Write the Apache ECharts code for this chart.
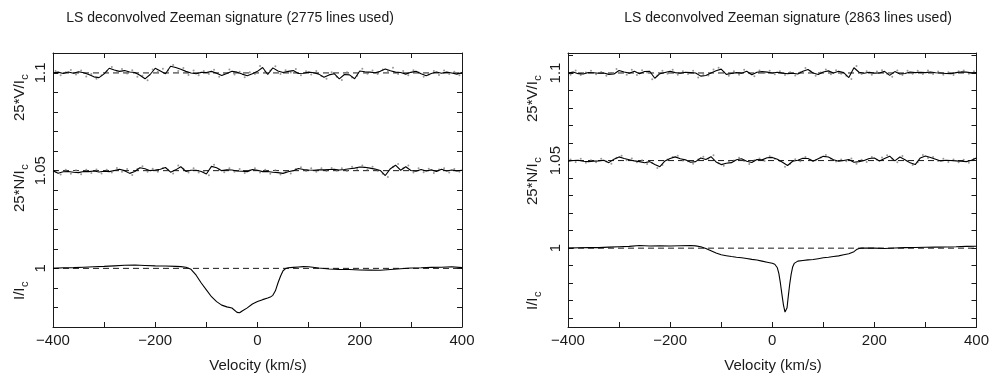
<!DOCTYPE html>
<html>
<head>
<meta charset="utf-8">
<script src="https://cdn.jsdelivr.net/npm/echarts@6/dist/echarts.min.js"></script>
<style>
html,body{margin:0;padding:0;background:#fff;}
#chart{width:992px;height:378px;}
</style>
</head>
<body>
<div id="chart"></div>
<script>
// ---------------- DATA ----------------
const titles = ['LS deconvolved Zeeman signature (2775 lines used)', 'LS deconvolved Zeeman signature (2863 lines used)'];
const xLabel = 'Velocity (km/s)';
const yNames = ['25*V/I', '25*N/I', 'I/I'];
const yNameSub = 'c';
const levels = [1.1, 1.05, 1.0];
const xTicks = [-400,-300,-200,-100,0,100,200,300,400];
const xTickLabels = [-400,-200,0,200,400];
const yTickLabels = [1, 1.05, 1.1];
const yTicksLeft = [0.97,0.98,0.99,1.00,1.01,1.02,1.03,1.04,1.05,1.06,1.07,1.08,1.09,1.10,1.11];
const yTicksRight = [0.96,0.97,0.98,0.99,1.00,1.01,1.02,1.03,1.04,1.05,1.06,1.07,1.08,1.09,1.10,1.11];

const velGrid = [
-400,-390,-380,-370,-360,-350,-340,-330,-320,-310,
-300,-290,-280,-270,-260,-250,-240,-230,-220,-210,
-200,-190,-180,-170,-160,-150,-140,-130,-120,-110,
-100,-90,-80,-70,-60,-50,-40,-30,-20,-10,
0,10,20,30,40,50,60,70,80,90,
100,110,120,130,140,150,160,170,180,190,
200,210,220,230,240,250,260,270,280,290,
300,310,320,330,340,350,360,370,380,390,400];

const velDots = [
-395,-385,-375,-365,-355,-345,-335,-325,-315,-305,
-295,-285,-275,-265,-255,-245,-235,-225,-215,-205,
-195,-185,-175,-165,-155,-145,-135,-125,-115,-105,
-95,-85,-75,-65,-55,-45,-35,-25,-15,-5,
5,15,25,35,45,55,65,75,85,95,
105,115,125,135,145,155,165,175,185,195,
205,215,225,235,245,255,265,275,285,295,
305,315,325,335,345,355,365,375,385,395];

// Left panel (2775 lines)
const leftV = [
1.1000,1.1004,1.0997,1.1005,1.0998,1.1006,1.1001,1.0992,1.0980,1.0976,
1.0995,1.1024,1.1015,1.1008,1.1012,1.1005,1.1002,1.0988,1.0970,1.0992,
1.1024,1.1010,1.0996,1.1034,1.1028,1.1019,1.1008,1.1000,1.0996,1.1003,
1.1002,1.1008,1.0998,1.0987,1.0997,1.1009,1.1004,1.0994,1.0986,1.0996,
1.1008,1.1028,1.0992,1.1026,1.1010,1.1002,1.1008,1.1012,1.0997,1.0998,
1.1004,1.1001,1.0994,1.0978,1.0990,1.0996,1.0970,1.0992,1.0990,1.0970,
1.1010,1.1006,1.1004,1.1001,1.1008,1.1020,1.1011,1.1004,1.1002,1.0994,
1.1003,1.1009,1.0996,1.0986,1.0997,1.1005,1.0998,1.1004,1.1000,1.0994,1.1002];
const leftVDots = [
1.1010,1.0988,1.1003,1.1015,1.0992,1.1012,1.0982,1.0994,1.0970,1.0988,
1.1008,1.1030,1.1004,1.1020,1.0997,1.1014,1.0980,1.0986,1.0962,1.1018,
1.1006,1.1022,1.1012,1.1040,1.1010,1.1025,1.0990,1.1012,1.0988,1.1010,
1.0994,1.1016,1.0980,1.0996,1.1018,1.0992,1.1006,1.0978,1.1004,1.0994,
1.1035,1.1006,1.1012,1.1034,1.0994,1.1014,1.1002,1.1020,1.0988,1.1008,
1.0992,1.1010,1.0984,1.0970,1.1004,1.0980,1.0964,1.1004,1.0976,1.0986,
1.1022,1.0996,1.1012,1.0994,1.1018,1.1008,1.1026,1.0994,1.1010,1.0988,
1.1014,1.1002,1.0980,1.0992,1.1010,1.0990,1.1012,1.0994,1.1006,1.0988];
const leftN = [
1.0500,1.0487,1.0494,1.0496,1.0492,1.0490,1.0496,1.0495,1.0498,1.0493,
1.0497,1.0495,1.0501,1.0507,1.0500,1.0486,1.0496,1.0515,1.0510,1.0500,
1.0503,1.0507,1.0516,1.0492,1.0504,1.0520,1.0496,1.0502,1.0502,1.0496,
1.0483,1.0522,1.0515,1.0500,1.0504,1.0503,1.0498,1.0497,1.0495,1.0506,
1.0502,1.0495,1.0496,1.0492,1.0490,1.0486,1.0494,1.0500,1.0511,1.0506,
1.0503,1.0502,1.0505,1.0504,1.0506,1.0507,1.0503,1.0506,1.0510,1.0513,
1.0519,1.0517,1.0513,1.0508,1.0501,1.0475,1.0510,1.0528,1.0502,1.0520,
1.0501,1.0497,1.0506,1.0498,1.0504,1.0496,1.0507,1.0498,1.0503,1.0499,1.0502];
const leftNDots = [
1.0494,1.0480,1.0504,1.0484,1.0502,1.0482,1.0504,1.0488,1.0506,1.0486,
1.0504,1.0490,1.0514,1.0494,1.0508,1.0478,1.0508,1.0522,1.0494,1.0510,
1.0494,1.0514,1.0504,1.0486,1.0526,1.0510,1.0490,1.0512,1.0490,1.0496,
1.0476,1.0530,1.0506,1.0492,1.0512,1.0494,1.0508,1.0488,1.0502,1.0512,
1.0490,1.0504,1.0484,1.0502,1.0480,1.0494,1.0486,1.0508,1.0518,1.0498,
1.0512,1.0494,1.0512,1.0498,1.0514,1.0500,1.0512,1.0498,1.0520,1.0508,
1.0526,1.0506,1.0520,1.0500,1.0484,1.0468,1.0520,1.0534,1.0512,1.0526,
1.0490,1.0512,1.0492,1.0510,1.0488,1.0506,1.0512,1.0490,1.0508,1.0494];
// Stokes I profile, [velocity, I/Ic]
const leftI = [
[-400,1.0000],[-380,1.0003],[-360,1.0004],[-340,1.0006],[-320,1.0008],[-300,1.0010],[-280,1.0013],[-260,1.0016],
[-240,1.0017],[-220,1.0015],[-200,1.0013],[-180,1.0012],[-160,1.0010],[-150,1.0009],[-140,1.0006],[-130,0.9995],
[-120,0.9965],[-110,0.9925],[-100,0.9890],[-90,0.9855],[-80,0.9830],[-70,0.9812],[-60,0.9803],[-50,0.9797],
[-40,0.9775],[-35,0.9773],[-30,0.9782],[-20,0.9798],[-10,0.9818],[0,0.9830],[10,0.9840],[20,0.9848],
[25,0.9853],[30,0.9862],[35,0.9885],[40,0.9925],[45,0.9960],[50,0.9988],[55,0.9999],[60,1.0003],
[70,1.0005],[80,1.0007],[90,1.0009],[100,1.0008],[120,1.0002],[140,0.9997],[160,0.9995],[180,0.9994],
[200,0.9992],[220,0.9991],[240,0.9990],[260,0.9994],[280,0.9998],[300,1.0002],[320,1.0003],[340,1.0005],
[360,1.0006],[380,1.0008],[400,1.0004]];

// Right panel (2863 lines)
const rightV = [
1.1000,1.1005,1.0996,1.0994,1.1003,1.1001,1.0998,1.1000,1.0992,1.0994,
1.1014,1.1006,1.0999,1.1010,1.0995,1.1008,1.1010,1.0970,1.0996,1.1003,
1.1010,1.1002,1.0998,1.1004,1.1002,1.1000,1.0982,1.0986,1.1000,1.1013,
1.1022,1.0992,1.0997,1.1002,1.0999,1.1010,1.0990,1.1004,1.1008,1.1005,
1.1000,1.1004,1.0999,1.0996,1.0998,1.0994,1.1010,1.1020,1.1000,1.0991,
1.1006,1.1012,1.1000,1.1010,1.1002,1.0974,1.1030,1.1004,1.0998,1.1004,
1.0999,1.1000,1.1009,1.0986,1.1008,1.0994,1.0997,1.1006,1.1002,1.1004,
1.1002,1.1006,1.1001,1.1000,1.0997,1.0996,1.1002,1.1006,1.1005,1.1001,1.1002];
const rightVDots = [
1.0990,1.1014,1.0988,1.1002,1.1012,1.0992,1.1006,1.0984,1.1000,1.1022,
1.1004,1.0990,1.1018,1.0988,1.1016,1.1002,1.0964,1.0986,1.1012,1.0996,
1.1018,1.0990,1.1010,1.0994,1.1012,1.0974,1.0994,1.0986,1.1020,1.1030,
1.1004,1.0984,1.1010,1.0990,1.1018,1.0998,1.0982,1.1014,1.1000,1.1012,
1.0992,1.1010,1.0988,1.1004,1.0986,1.1004,1.1028,1.1010,1.0984,1.1002,
1.1020,1.0992,1.1016,1.0996,1.0984,1.0966,1.1040,1.0994,1.1010,1.0990,
1.1008,1.1016,1.0996,1.0978,1.1014,1.0988,1.1012,1.0996,1.1012,1.0994,
1.1014,1.0994,1.1008,1.0990,1.1004,1.0988,1.1010,1.1014,1.0996,1.1010];
const rightN = [
1.0497,1.0500,1.0502,1.0496,1.0494,1.0497,1.0498,1.0502,1.0488,1.0508,
1.0521,1.0512,1.0505,1.0498,1.0494,1.0488,1.0494,1.0478,1.0465,1.0498,
1.0512,1.0521,1.0510,1.0504,1.0490,1.0494,1.0515,1.0506,1.0522,1.0492,
1.0477,1.0485,1.0488,1.0505,1.0510,1.0496,1.0489,1.0506,1.0504,1.0516,
1.0518,1.0508,1.0490,1.0472,1.0496,1.0502,1.0513,1.0512,1.0496,1.0510,
1.0524,1.0520,1.0505,1.0496,1.0500,1.0506,1.0490,1.0494,1.0500,1.0512,
1.0515,1.0498,1.0512,1.0525,1.0498,1.0520,1.0505,1.0487,1.0477,1.0515,
1.0526,1.0518,1.0508,1.0498,1.0502,1.0500,1.0498,1.0496,1.0494,1.0502,1.0514];
const rightNDots = [
1.0506,1.0492,1.0510,1.0488,1.0502,1.0490,1.0510,1.0494,1.0482,1.0516,
1.0528,1.0502,1.0512,1.0490,1.0502,1.0480,1.0486,1.0458,1.0474,1.0506,
1.0520,1.0528,1.0500,1.0496,1.0482,1.0506,1.0522,1.0510,1.0530,1.0484,
1.0470,1.0494,1.0500,1.0516,1.0498,1.0480,1.0502,1.0512,1.0498,1.0524,
1.0510,1.0498,1.0464,1.0482,1.0508,1.0496,1.0520,1.0504,1.0502,1.0518,
1.0532,1.0510,1.0494,1.0506,1.0496,1.0512,1.0482,1.0504,1.0492,1.0520,
1.0504,1.0518,1.0530,1.0510,1.0490,1.0526,1.0496,1.0474,1.0490,1.0532,
1.0514,1.0520,1.0498,1.0510,1.0492,1.0506,1.0490,1.0504,1.0488,1.0510];
const rightI = [
[-400,1.0000],[-380,1.0002],[-360,1.0004],[-340,1.0003],[-320,1.0006],[-300,1.0008],[-280,1.0010],[-260,1.0015],
[-240,1.0012],[-220,1.0013],[-200,1.0012],[-180,1.0014],[-160,1.0015],[-150,1.0013],[-140,1.0008],[-130,0.9998],
[-120,0.9985],[-110,0.9972],[-100,0.9962],[-90,0.9957],[-80,0.9952],[-70,0.9948],[-60,0.9945],[-50,0.9941],
[-40,0.9936],[-30,0.9932],[-20,0.9926],[-10,0.9920],[0,0.9914],[5,0.9908],[10,0.9888],[13,0.9855],
[16,0.9800],[19,0.9735],[22,0.9675],[25,0.9635],[27,0.9628],[29,0.9660],[31,0.9715],[34,0.9790],
[37,0.9850],[40,0.9893],[43,0.9913],[46,0.9920],[50,0.9926],[60,0.9930],[70,0.9933],[80,0.9935],
[90,0.9940],[100,0.9945],[110,0.9948],[120,0.9952],[130,0.9956],[140,0.9962],[150,0.9968],[160,0.9980],
[165,0.9992],[170,0.9998],[175,1.0000],[180,1.0001],[200,1.0000],[220,0.9998],[240,1.0001],[260,1.0003],
[280,1.0004],[300,1.0005],[320,1.0006],[340,1.0007],[360,1.0008],[380,1.0010],[400,1.0011]];

// ---------------- LAYOUT / STYLE ----------------
const FONT = '"Liberation Sans", Arial, sans-serif';
const INK = '#1a1a1a';
const panels = [
  {left: 53, yMin: 0.97, yMax: 1.1102, yTicks: yTicksLeft, V: leftV, VD: leftVDots, N: leftN, ND: leftNDots, I: leftI,
   titleX: 230, nameX: 20, nameStart: [121, 212, 300], xLabelX: 258},
  {left: 568, yMin: 0.955, yMax: 1.1114, yTicks: yTicksRight, V: rightV, VD: rightVDots, N: rightN, ND: rightNDots, I: rightI,
   titleX: 788, nameX: 533, nameStart: [122, 205, 310], xLabelX: 773}
];
const GRID_TOP = 53, GRID_W = 409, GRID_H = 274;

function zip(xs, ys) { return xs.map((x, i) => [x, ys[i]]); }
function fmtX(v) { return v < 0 ? '\u2212' + (-v) : String(v); }

const grids = [], xAxes = [], yAxes = [], series = [], graphics = [];
const tickStyle = {show: true, inside: true, length: 5, lineStyle: {color: INK, width: 1}};
const lineStyleAxis = {show: true, onZero: false, lineStyle: {color: INK, width: 1}};

const meas = document.createElement('canvas').getContext('2d');
function textW(t, font) { meas.font = font; return meas.measureText(t).width; }

panels.forEach((p, k) => {
  grids.push({left: p.left, top: GRID_TOP, width: GRID_W, height: GRID_H, containLabel: false});
  const xb = xAxes.length;
  xAxes.push({
    type: 'value', gridIndex: k, position: 'bottom', min: -400, max: 400,
    axisLine: lineStyleAxis, splitLine: {show: false},
    axisTick: Object.assign({customValues: xTicks}, tickStyle),
    axisLabel: {customValues: xTickLabels, formatter: fmtX, color: INK, fontFamily: FONT, fontSize: 15, margin: 6}
  });
  xAxes.push({
    type: 'value', gridIndex: k, position: 'top', min: -400, max: 400,
    axisLine: lineStyleAxis, splitLine: {show: false},
    axisTick: Object.assign({customValues: xTicks}, tickStyle),
    axisLabel: {show: false}
  });
  const yb = yAxes.length;
  yAxes.push({
    type: 'value', gridIndex: k, position: 'left', min: p.yMin, max: p.yMax,
    axisLine: lineStyleAxis, splitLine: {show: false},
    axisTick: Object.assign({customValues: p.yTicks}, tickStyle),
    axisLabel: {customValues: yTickLabels, formatter: v => String(+v.toFixed(2)), rotate: 90,
                color: INK, fontFamily: FONT, fontSize: 15, margin: 5}
  });
  yAxes.push({
    type: 'value', gridIndex: k, position: 'right', min: p.yMin, max: p.yMax,
    axisLine: lineStyleAxis, splitLine: {show: false},
    axisTick: Object.assign({customValues: p.yTicks}, tickStyle),
    axisLabel: {show: false}
  });

  const common = {xAxisIndex: xb, yAxisIndex: yb, silent: true, animation: false};
  // zero / continuum levels (dashed)
  levels.forEach(lv => {
    series.push(Object.assign({
      type: 'line', data: [[-400, lv], [400, lv]], showSymbol: false, z: 1,
      lineStyle: {color: INK, width: 1, type: [6, 4]}
    }, common));
  });
  // individual points
  [[p.VD, velDots], [p.ND, velDots]].forEach(([ys, xs]) => {
    series.push(Object.assign({
      type: 'scatter', data: zip(xs, ys), symbol: 'circle', symbolSize: 2, z: 2,
      itemStyle: {color: '#7f7f7f'}
    }, common));
  });
  // profiles
  [zip(velGrid, p.V), zip(velGrid, p.N), p.I].forEach(d => {
    series.push(Object.assign({
      type: 'line', data: d, showSymbol: false, z: 3,
      lineStyle: {color: '#000', width: 1.1}
    }, common));
  });

  // title
  graphics.push({type: 'text', x: p.titleX, y: 18, silent: true,
    style: {text: titles[k], font: '14px ' + FONT, fill: INK, align: 'center', verticalAlign: 'middle'}});
  // x axis label
  graphics.push({type: 'text', x: p.xLabelX, y: 366, silent: true,
    style: {text: xLabel, font: '15px ' + FONT, fill: INK, align: 'center', verticalAlign: 'middle'}});
  // y labels (rotated, reading bottom to top) with subscript c
  yNames.forEach((nm, j) => {
    const f = '15px ' + FONT;
    const w = textW(nm, f);
    const y0 = p.nameStart[j];
    graphics.push({type: 'text', x: p.nameX, y: y0, rotation: Math.PI / 2, silent: true,
      style: {text: nm, font: f, fill: INK, align: 'left', verticalAlign: 'middle'}});
    graphics.push({type: 'text', x: p.nameX + 5, y: y0 - w - 0.5, rotation: Math.PI / 2, silent: true,
      style: {text: yNameSub, font: '11px ' + FONT, fill: INK, align: 'left', verticalAlign: 'middle'}});
  });
});

const chart = echarts.init(document.getElementById('chart'), null, {renderer: 'canvas'});
chart.setOption({
  backgroundColor: '#fff',
  animation: false,
  grid: grids, xAxis: xAxes, yAxis: yAxes, series: series,
  graphic: graphics
});
</script>
</body>
</html>
